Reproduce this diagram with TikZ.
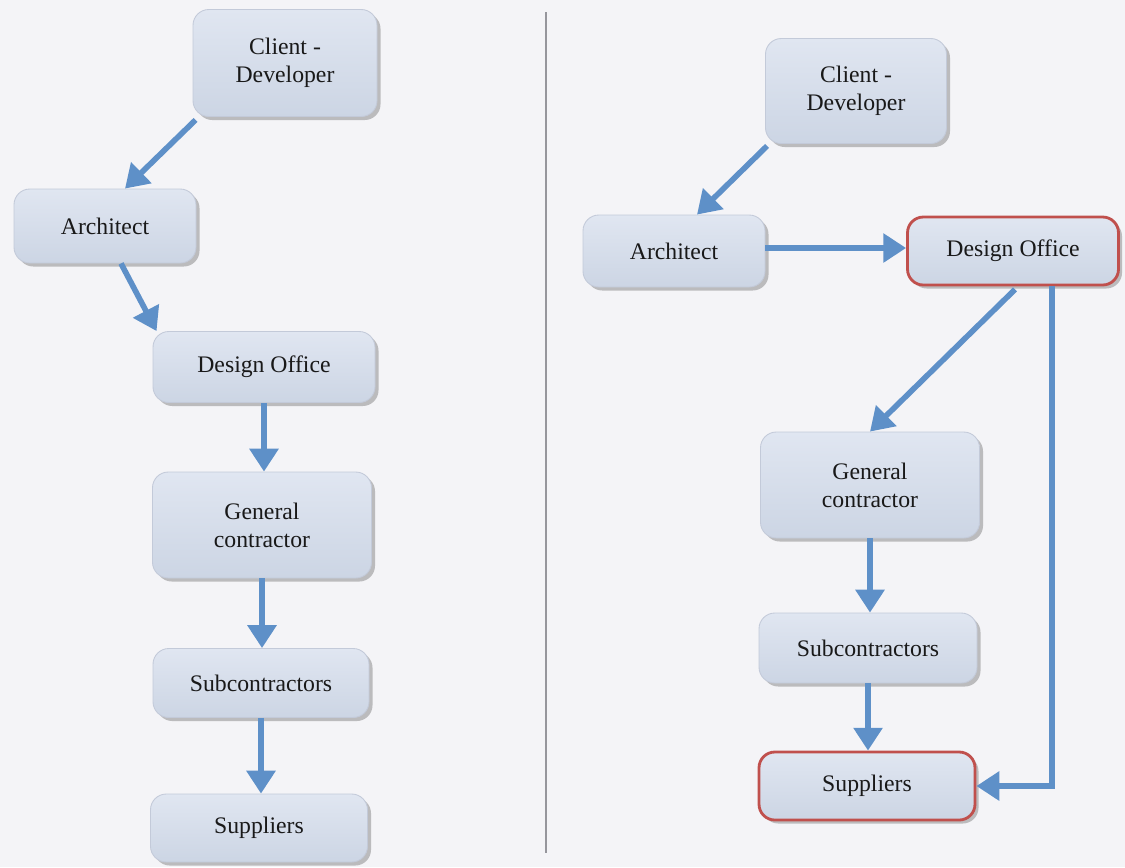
\documentclass[tikz,border=0pt]{standalone}
\usepackage{fontspec}
\setmainfont{Liberation Serif}
\usetikzlibrary{shadows,arrows.meta,calc}
\definecolor{bgc}{RGB}{244,244,247}
\definecolor{boxtop}{RGB}{224,230,241}
\definecolor{boxbot}{RGB}{204,213,228}
\definecolor{boxedge}{RGB}{195,202,217}
\definecolor{arrc}{RGB}{94,144,200}
\definecolor{redc}{RGB}{192,80,77}
\definecolor{divc}{RGB}{150,150,156}
\tikzset{
  box/.style={rectangle, rounded corners=9pt, top color=boxtop, bottom color=boxbot,
    draw=boxedge, line width=0.5pt, align=center, font=\fontsize{13.5}{16}\selectfont,
    text=black!90, drop shadow={shadow xshift=2pt, shadow yshift=-2pt, opacity=0.4, fill=black!60}},
  redbox/.style={box, draw=redc, line width=1.6pt},
  flow/.style={draw=arrc, line width=3.2pt, -{Triangle[length=13pt,width=16pt]}},
}
\begin{document}
\begin{tikzpicture}[x=0.02cm,y=-0.02cm]
\fill[bgc] (0,0) rectangle (1125,867);
\useasboundingbox (0,0) rectangle (1125,867);
% divider
\draw[divc, line width=1.3pt] (546,12) -- (546,853);
% left column
\node[box, minimum width=184*0.02cm, minimum height=107*0.02cm] (lcd) at (285,63) {Client -\\Developer};
\node[box, minimum width=182*0.02cm, minimum height=74*0.02cm] (larch) at (105,226) {Architect};
\node[box, minimum width=222*0.02cm, minimum height=71*0.02cm] (ldo) at (264,367) {Design Office};
\node[box, minimum width=219*0.02cm, minimum height=106*0.02cm] (lgc) at (262,525) {General\\contractor};
\node[box, minimum width=216*0.02cm, minimum height=69*0.02cm] (lsub) at (261,683) {Subcontractors};
\node[box, minimum width=217*0.02cm, minimum height=68*0.02cm] (lsup) at (259,828) {Suppliers};
\draw[flow] ($(lcd.south west)+(3,3)$) -- ($(larch.north)+(20,0)$);
\draw[flow] ($(larch.south)+(16,0)$) -- ($(ldo.north west)+(4,0)$);
\draw[flow] (ldo.south) -- (ldo.south |- lgc.north);
\draw[flow] (lgc.south) -- (lgc.south |- lsub.north);
\draw[flow] (lsub.south) -- (lsub.south |- lsup.north);
% right column
\node[box, minimum width=181*0.02cm, minimum height=105*0.02cm] (rcd) at (856,91) {Client -\\Developer};
\node[box, minimum width=182*0.02cm, minimum height=72*0.02cm] (rarch) at (674,251) {Architect};
\node[redbox, minimum width=211*0.02cm, minimum height=68*0.02cm] (rdo) at (1013,251) {Design Office};
\node[box, minimum width=219*0.02cm, minimum height=106*0.02cm] (rgc) at (870,485) {General\\contractor};
\node[box, minimum width=218*0.02cm, minimum height=70*0.02cm] (rsub) at (868,648) {Subcontractors};
\node[redbox, minimum width=216*0.02cm, minimum height=68*0.02cm] (rsup) at (867,786) {Suppliers};
\draw[flow] ($(rcd.south west)+(2,2)$) -- ($(rarch.north)+(23,0)$);
\draw[flow] ($(rarch.east)+(0,-3)$) -- ($(rdo.west)+(0,-3)$);
\draw[flow] ($(rdo.south)+(2,3)$) -- (rgc.north);
\draw[flow] (rgc.south) -- (rgc.south |- rsub.north);
\draw[flow] (rsub.south) -- (rsub.south |- rsup.north);
\draw[flow] ($(rdo.south)+(39,0)$) |- (rsup.east);
\end{tikzpicture}
\end{document}
